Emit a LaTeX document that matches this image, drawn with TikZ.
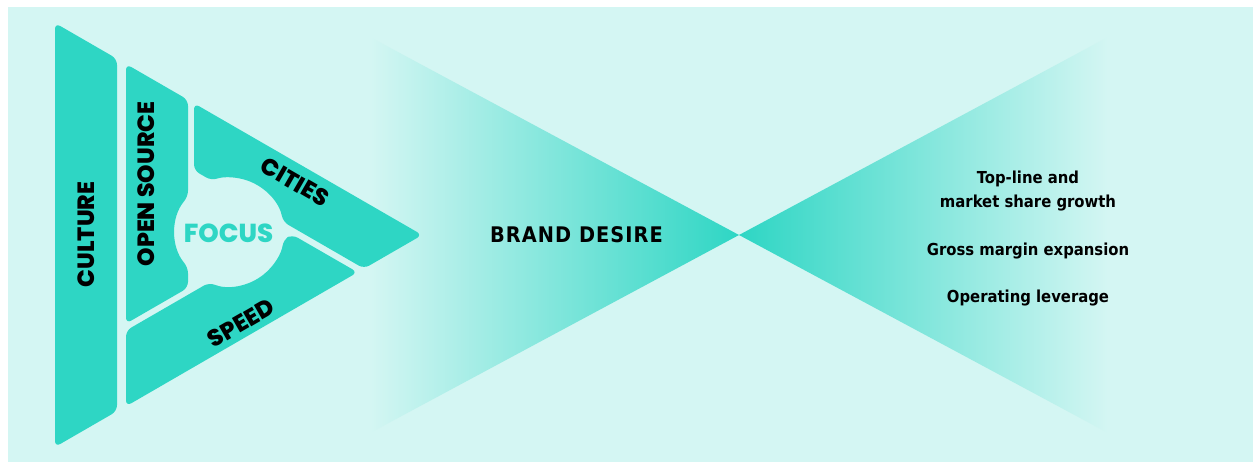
\documentclass[tikz,border=0pt]{standalone}
\usepackage{fontspec}
\newfontfamily\geo{Poppins}[BoldFont={Poppins ExtraBold}]
\newfontfamily\din{DejaVu Sans Condensed}
\definecolor{tealx}{RGB}{46,214,196}
\definecolor{bgmint}{RGB}{212,246,243}
\begin{document}
\begin{tikzpicture}[x=1pt,y=-1pt,
  band/.style={fill=tealx, rounded corners=6pt},
  geolabel/.style={font=\geo\bfseries\fontsize{23.5}{23.5}\selectfont, text=black, inner sep=0pt},
  dinlabel/.style={font=\din\bfseries\fontsize{16.5}{16.5}\selectfont, text=black, inner sep=0pt, anchor=base}]
\useasboundingbox (0,0) rectangle (1253,463);
\fill[white] (0,0) rectangle (1253,463);
\fill[bgmint] (8,7) rectangle (1253,462);
% bow tie
\shade[left color=bgmint, right color=tealx] (370,37) -- (739,235) -- (370,433) -- cycle;
\shade[left color=tealx, right color=bgmint] (739,235) -- (1108,37) -- (1108,433) -- cycle;
% triangle bands (circle centre (229.5,232), radius 54.5)
\fill[band] (55,23) -- (117,58.8) -- (117,411.2) -- (55,447) -- cycle;
\fill[band] (126,64) -- (188,99.8) -- (188,196.67)
   arc[start angle=220.4, end angle=139.6, radius=54.5]
   -- (188,287.8) -- (126,323.6) -- cycle;
\fill[band] (194,103.3) -- (422.2,235) -- (364,268.6) -- (283.04,221.82)
   arc[start angle=-10.77, end angle=-109.23, radius=54.5]
   -- (194,170.4) -- cycle;
\fill[band] (126,330.6) -- (209.14,282.55)
   arc[start angle=111.94, end angle=8.06, radius=54.5]
   -- (292.2,234.6) -- (357.6,272.3) -- (126,406.3) -- cycle;
% labels
\node[geolabel, rotate=90] (culture) at (86,234.5) {CULTURE};
\node[geolabel, rotate=90] (opensource) at (146,184) {OPEN SOURCE};
\node[geolabel, rotate=-30] (cities) at (295,182) {CITIES};
\node[geolabel, rotate=30] (speed) at (241,323) {SPEED};
\node[geolabel, text=tealx, font=\geo\bfseries\fontsize{26}{26}\selectfont] (focus) at (228.5,233.4) {FOCUS};
\node[inner sep=0pt, font=\din\bfseries\addfontfeature{LetterSpace=5}\fontsize{21.5}{21.5}\selectfont] (brand) at (576.5,234.5) {BRAND DESIRE};
\node[dinlabel] (l1) at (1028,183.3) {Top-line and};
\node[dinlabel] (l2) at (1028,207.3) {market share growth};
\node[dinlabel] (l3) at (1028,255) {Gross margin expansion};
\node[dinlabel] (l4) at (1028,302.7) {Operating leverage};
\end{tikzpicture}
\end{document}
